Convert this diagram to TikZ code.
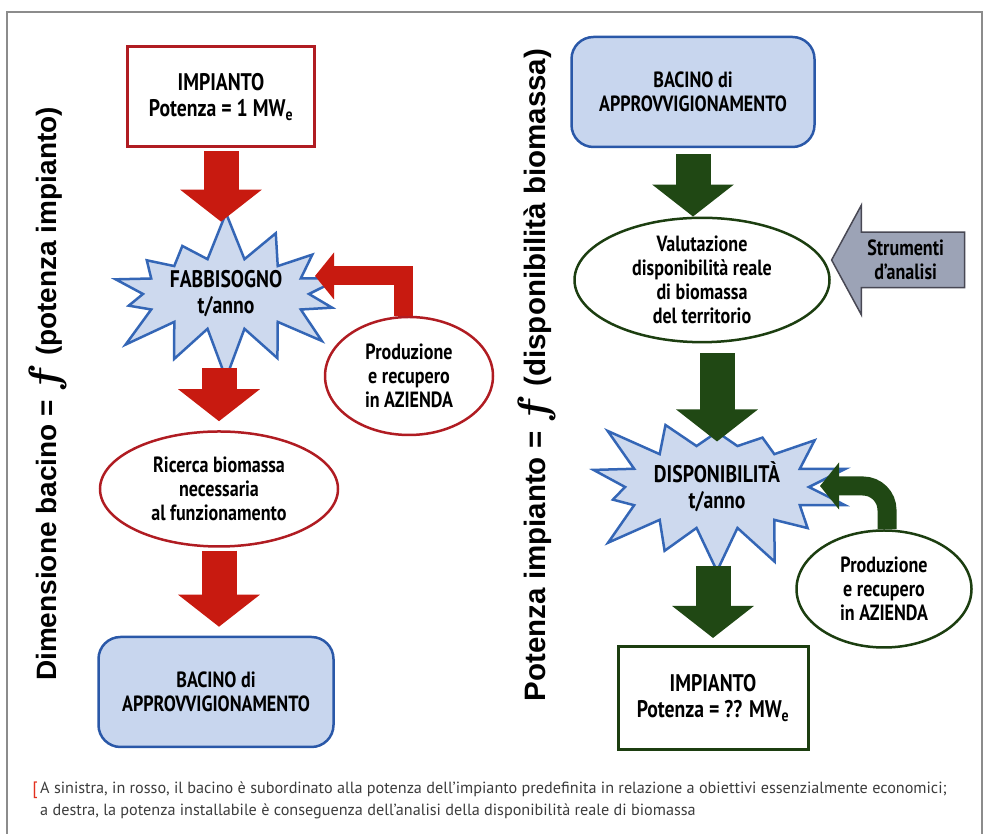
\documentclass[tikz,border=0pt]{standalone}
\usepackage{graphicx}
\usepackage{fontspec}
\setmainfont{PT Sans}
\newfontfamily\condfont{PT Sans}[FakeStretch=0.82]
\newfontfamily\sidefont{Liberation Sans}
\newcommand\bigeff{\raisebox{-2pt}{\scalebox{1.7}{\boldmath$f$}}}
\usetikzlibrary{positioning,arrows.meta,shapes.geometric,shapes.symbols,shapes.arrows,calc}
\definecolor{redline}{RGB}{176,28,34}
\definecolor{redarrow}{RGB}{200,26,16}
\definecolor{blueline}{RGB}{42,88,168}
\definecolor{bluefill}{RGB}{200,214,238}
\definecolor{starfill}{RGB}{205,217,238}
\definecolor{starline}{RGB}{52,102,182}
\definecolor{greenline}{RGB}{28,62,16}
\definecolor{greenarrow}{RGB}{32,72,20}
\definecolor{toolfill}{RGB}{156,163,182}
\definecolor{toolline}{RGB}{72,72,84}
\definecolor{frameline}{RGB}{140,140,140}
\definecolor{captext}{RGB}{60,60,60}
\definecolor{capred}{RGB}{226,48,30}
\tikzset{
  lbl/.style={font=\condfont\fontsize{22}{24}\selectfont\bfseries, align=center, inner sep=2pt},
  biglbl/.style={font=\condfont\fontsize{24}{26}\selectfont\bfseries},
  plantbox/.style={lbl, biglbl, draw, line width=3pt, fill=white,
                   minimum width=187pt, minimum height=100pt},
  basinbox/.style={lbl, draw=blueline, fill=bluefill, line width=2.5pt,
                   rounded corners=22pt, minimum width=235pt, minimum height=110pt},
  oval/.style={lbl, ellipse, draw, line width=2.5pt, fill=white, inner sep=0pt},
  burst/.style={lbl, biglbl, starburst, draw=starline, fill=starfill, line width=2.5pt,
                starburst points=14, starburst point height=50pt},
  toolarrow/.style={lbl, single arrow, shape border rotate=180, draw=toolline,
                    fill=toolfill, line width=1.5pt, minimum height=133pt,
                    single arrow head extend=27pt, single arrow tip angle=123, inner ysep=7pt},
  fatarrow/.style={-{Triangle[width=80pt, length=32pt]}, line width=35pt},
  bentarrow/.style={-{Triangle[width=46pt, length=19pt]}, line width=19pt},
}

\begin{document}
\begin{tikzpicture}[x=1pt, y=1pt,
    sidelbl/.style={rotate=90, font=\sidefont\bfseries\fontsize{#1}{32}\selectfont},
    captxt/.style={font=\fontsize{16.2}{22}\selectfont, text=captext, align=left, inner sep=0pt}]
  \useasboundingbox (0,0) rectangle (985,834);
  \draw[frameline, line width=1.5pt] (7,0) |- (982,822) -- (982,0);

  % left column: bacino from potenza
  \node[plantbox, draw=redline] (impL) at (221,737) {IMPIANTO\\Potenza = 1 MW\textsubscript{e}};
  \node[burst, minimum width=266pt, minimum height=170pt, random starburst=7] (fab) at (226,540) {FABBISOGNO\\t/anno};
  \node[oval, draw=redline, minimum width=168pt, minimum height=118pt] (prodL) at (409,458) {Produzione\\e recupero\\in AZIENDA};
  \node[oval, draw=redline, minimum width=238pt, minimum height=115pt] (ricL) at (219,345) {Ricerca biomassa\\necessaria\\al funzionamento};
  \node[basinbox] (bacL) at (216,142) {BACINO di\\APPROVVIGIONAMENTO};
  \coordinate (fabin) at (315,558);

  \draw[fatarrow, redarrow] ([yshift=-3pt]impL.south) -- ([yshift=-12pt]impL.south |- fab.north);
  \draw[fatarrow, redarrow] ([yshift=14pt]ricL.north |- fab.south) -- ([yshift=9pt]ricL.north);
  \draw[fatarrow, redarrow] ([yshift=-3pt]ricL.south) -- ([yshift=9pt]ricL.south |- bacL.north);
  \draw[bentarrow, redarrow] ([xshift=-6pt]prodL.north) |- (fabin);

  % right column: potenza from bacino
  \node[basinbox, minimum width=243pt] (bacR) at (693,742) {BACINO di\\APPROVVIGIONAMENTO};
  \node[oval, draw=greenline, minimum width=255pt, minimum height=115pt] (valR) at (702,554) {Valutazione\\disponibilità reale\\di biomassa\\del territorio};
  \node[toolarrow, anchor=tip] (strum) at ([yshift=20pt]valR.east) {Strumenti\\d’analisi};
  \node[burst, minimum width=264pt, minimum height=184pt, random starburst=23] (disp) at (717,347) {DISPONIBILITÀ\\t/anno};
  \node[oval, draw=greenline, minimum width=175pt, minimum height=117pt] (prodR) at (884,245) {Produzione\\e recupero\\in AZIENDA};
  \node[plantbox, draw=greenline, minimum width=190pt, minimum height=103pt] (impR) at (713,136) {IMPIANTO\\Potenza = ?? MW\textsubscript{e}};
  \coordinate (dispin) at (820,348);

  \draw[fatarrow, greenarrow] ([yshift=-6pt]bacR.south) -- (bacR.south |- valR.north);
  \draw[fatarrow, greenarrow] ([yshift=-10pt]disp.north |- valR.south) -- ([yshift=-11pt]disp.north);
  \draw[fatarrow, greenarrow] ([yshift=8pt]impR.north |- disp.south) -- ([yshift=7pt]impR.north);
  \draw[bentarrow, greenarrow, rounded corners=24pt] ([xshift=3pt]prodR.north) |- (dispin);

  % side labels
  \node[sidelbl=28] (dimL) at (48,440) {Dimensione bacino = \bigeff{} (potenza impianto)};
  \node[sidelbl=29.5] (potR) at (537,459) {Potenza impianto = \bigeff{} (disponibilità biomassa)};

  % caption
  \node[captxt, anchor=west] (cap) at (40,34) {A sinistra, in rosso, il bacino è subordinato alla potenza dell’impianto predefinita in relazione a obiettivi essenzialmente economici;\\
    a destra, la potenza installabile è conseguenza dell’analisi della disponibilità reale di biomassa};
  \node[font=\fontsize{18}{18}\selectfont, text=capred, inner sep=0pt, left=2pt of cap.north west, anchor=north east] (brk) {[};
\end{tikzpicture}
\end{document}
